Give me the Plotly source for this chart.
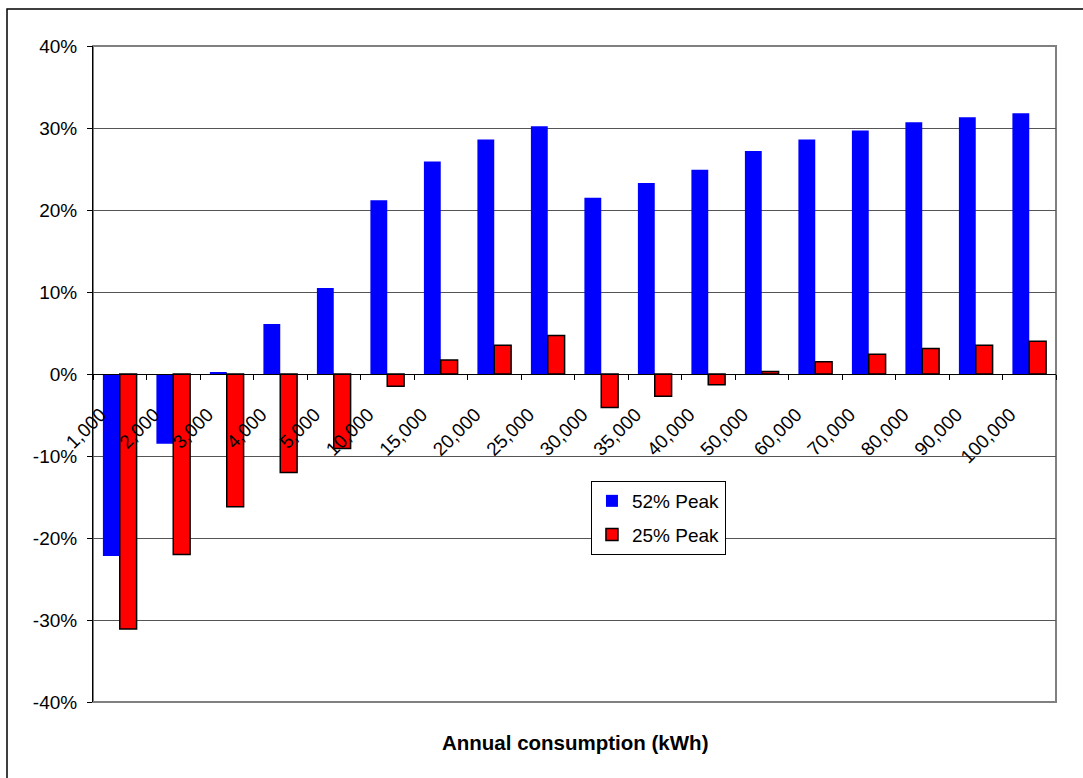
import plotly.graph_objects as go

categories = ["1,000", "2,000", "3,000", "4,000", "5,000", "10,000", "15,000", "20,000",
              "25,000", "30,000", "35,000", "40,000", "50,000", "60,000", "70,000",
              "80,000", "90,000", "100,000"]
peak52 = [-0.222, -0.085, 0.002, 0.061, 0.105, 0.212, 0.259, 0.286, 0.302, 0.215,
          0.233, 0.249, 0.272, 0.286, 0.297, 0.307, 0.313, 0.318]
peak25 = [-0.311, -0.220, -0.162, -0.120, -0.091, -0.015, 0.017, 0.035, 0.047, -0.041,
          -0.027, -0.013, 0.003, 0.015, 0.024, 0.031, 0.035, 0.040]
y_ticks = [-0.4, -0.3, -0.2, -0.1, 0.0, 0.1, 0.2, 0.3, 0.4]
y_tick_labels = ["-40%", "-30%", "-20%", "-10%", "0%", "10%", "20%", "30%", "40%"]

FONT = "Liberation Sans, Arial, sans-serif"

fig = go.Figure()
fig.add_trace(go.Bar(x=categories, y=peak52, name="52% Peak", legendgroup="a",
                     marker=dict(color="#0000FF", line=dict(width=0))))
fig.add_trace(go.Bar(x=categories, y=peak25, name="25% Peak", legendgroup="b",
                     marker=dict(color="#FF0000", line=dict(color="#000000", width=1.5))))

# plot area border (gray)
fig.add_shape(type="rect", xref="paper", yref="paper", x0=0, x1=1, y0=0, y1=1,
              line=dict(color="#808080", width=2), layer="below")
# outer chart border
fig.add_shape(type="rect", xref="paper", yref="paper", x0=-0.0893, x1=1.2, y0=-0.3, y1=1.0564,
              line=dict(color="#000000", width=1.5), layer="below")

fig.add_annotation(text="<b>Annual consumption (kWh)</b>", xref="paper", yref="paper",
                   x=0.5, y=-0.061, xanchor="center", yanchor="middle", showarrow=False,
                   font=dict(family=FONT, size=20.5, color="#000000"))

fig.update_layout(
    width=1083, height=778,
    margin=dict(l=93, r=27, t=46, b=76),
    paper_bgcolor="white", plot_bgcolor="white",
    barmode="group", bargap=0.37, bargroupgap=0.0,
    font=dict(family=FONT, size=19, color="#000000"),
    showlegend=True,
    legend=dict(x=0.5171, y=0.3369, xanchor="left", yanchor="top",
                bgcolor="white", bordercolor="#000000", borderwidth=1,
                traceorder="grouped", tracegroupgap=6, itemwidth=30,
                font=dict(family=FONT, size=19, color="#000000")),
    xaxis=dict(type="category", anchor="free", position=0.5,
               showline=True, linecolor="#000000", linewidth=1,
               ticks="outside", ticklen=5, tickcolor="#000000", tickson="boundaries",
               tickangle=-45, ticklabelstandoff=21, ticklabelshift=-19, showgrid=False,
               tickfont=dict(family=FONT, size=19, color="#000000")),
    yaxis=dict(range=[-0.4, 0.4], tickvals=y_ticks, ticktext=y_tick_labels,
               showline=True, linecolor="#000000", linewidth=1,
               ticks="outside", ticklen=5, tickcolor="#000000", ticklabelstandoff=6,
               showgrid=True, gridcolor="#555555", gridwidth=1, zeroline=False,
               tickfont=dict(family=FONT, size=19, color="#000000")),
)

fig.write_html("out.html")
